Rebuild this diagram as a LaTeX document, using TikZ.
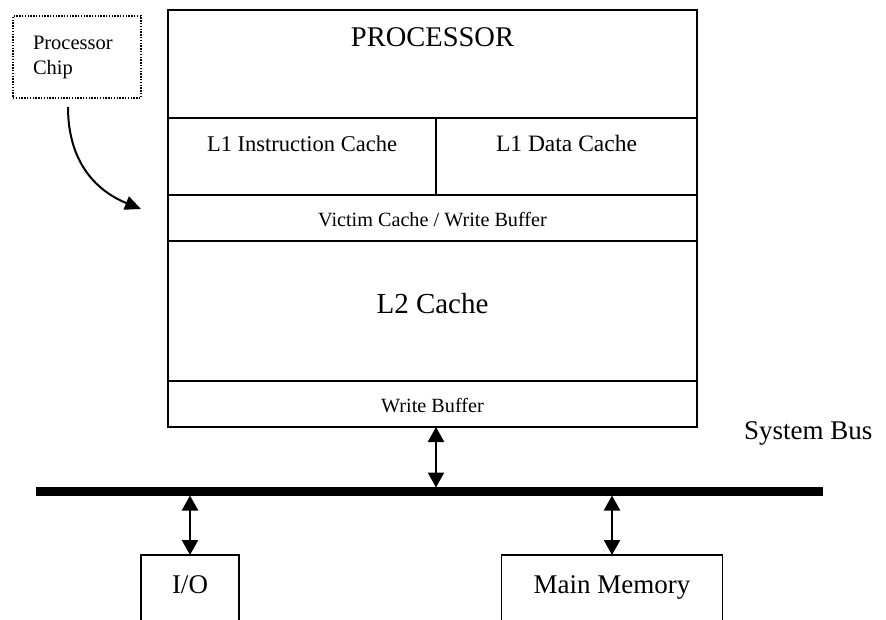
\documentclass[tikz,border=0pt]{standalone}
\usepackage{fontspec}
\setmainfont{Liberation Serif}
\usetikzlibrary{arrows.meta}

\begin{document}
\begin{tikzpicture}[x=1pt,y=1pt,
  unit/.style={draw,line width=1.8pt,inner sep=0pt,outer sep=0pt,anchor=north west},
  devbox/.style={draw,line width=1.6pt,inner sep=0pt,outer sep=0pt,anchor=north,
    text height=38pt,text depth=40pt,font=\fontsize{27}{30}\selectfont},
  twoway/.style={{Triangle[length=15pt,width=16pt]}-{Triangle[length=15pt,width=16pt]},
    line width=2.3pt}]
\clip (0,0) rectangle (886,619);

% processor chip
\node[unit,minimum width=529pt,text height=37pt,text depth=71pt,
  font=\fontsize{28.5}{30}\selectfont] (proc) at (168,609) {PROCESSOR};
\node[unit,minimum width=268pt,text height=34pt,text depth=43pt,
  font=\fontsize{22.5}{25}\selectfont] (l1i) at (proc.south west) {L1 Instruction Cache};
\node[unit,minimum width=261pt,text height=34pt,text depth=43pt,
  font=\fontsize{23.5}{25}\selectfont] (l1d) at (l1i.north east) {L1 Data Cache};
\node[unit,minimum width=529pt,text height=32pt,text depth=14pt,
  font=\fontsize{20.2}{22}\selectfont] (victim) at (l1i.south west) {Victim Cache / Write Buffer};
\node[unit,minimum width=529pt,text height=73pt,text depth=67pt,
  font=\fontsize{29}{30}\selectfont] (l2) at (victim.south west) {L2 Cache};
\node[unit,minimum width=529pt,text height=31pt,text depth=15pt,
  font=\fontsize{20.2}{22}\selectfont] (wb) at (l2.south west) {Write Buffer};

\node[draw,dash pattern=on 1.4pt off 1.4pt,line width=1.4pt,anchor=north west,
  minimum height=82pt,text width=88pt,inner xsep=20pt,outer sep=0pt,align=left,
  font=\fontsize{20.5}{25}\selectfont] (chiplabel) at (13,603) {Processor\\Chip};
\coordinate (chiptip) at (141,410);
\draw[line width=2pt,-{Triangle[length=16pt,width=14pt]}]
  ([xshift=-9pt,yshift=-9pt]chiplabel.south) .. controls +(0,-58) and +(-42,17) .. (chiptip);

% system bus
\coordinate (busW) at (36,127.5);
\coordinate (busE) at (823,127.5);
\draw[line width=8.3pt] (busW) -- (busE);
\node[anchor=base west,inner sep=0pt,font=\fontsize{27}{30}\selectfont] (busname) at (744,179) {System Bus};

\node[devbox,minimum width=98pt] (io) at (190,64) {I/O};
\node[devbox,minimum width=221pt] (mem) at (612,64) {Main Memory};

\draw[twoway] (l1i.east |- wb.south) -- ([yshift=4pt]l1i.east |- busW);
\draw[twoway] ([yshift=-4pt]io.north |- busW) -- (io.north);
\draw[twoway] ([yshift=-4pt]mem.north |- busW) -- (mem.north);

\end{tikzpicture}
\end{document}
